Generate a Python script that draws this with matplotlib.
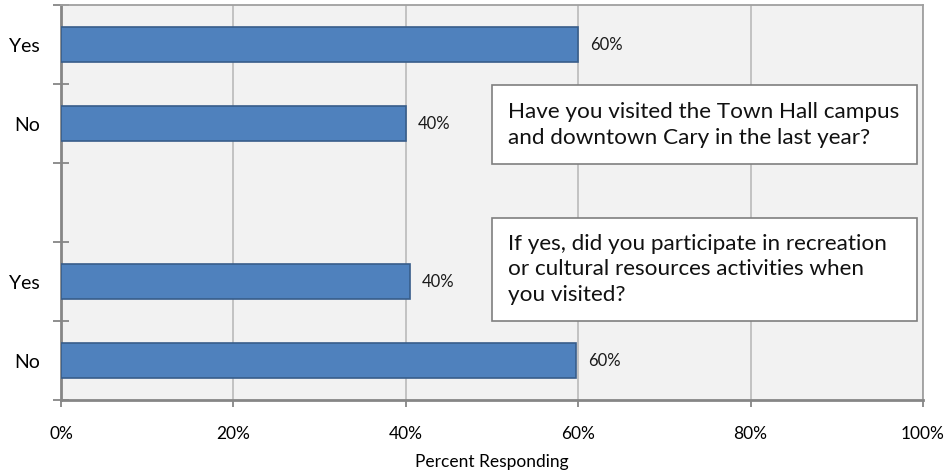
import matplotlib.pyplot as plt
from matplotlib.patches import Rectangle
from matplotlib.ticker import FixedLocator, PercentFormatter

plt.rcParams['font.family'] = ['Lato', 'DejaVu Sans']

# survey answers, top to bottom (the empty slot separates the two questions)
labels = ['Yes', 'No', '', 'Yes', 'No']
values = [0.60, 0.40, None, 0.405, 0.597]

questions = [
    'Have you visited the Town Hall campus\nand downtown Cary in the last year?',
    'If yes, did you participate in recreation\nor cultural resources activities when\nyou visited?',
]

fig = plt.figure(figsize=(9.46, 4.72), dpi=100)
ax = fig.add_axes([0.0645, 0.1525, 0.9112, 0.8369])
ax.set_facecolor('#f2f2f2')

pos = list(range(len(labels)))
for p, v in zip(pos, values):
    if v is None:
        continue
    ax.barh(p, v, height=0.44, color='#4f81bd', edgecolor='#385d8a', linewidth=1.2, zorder=3)
    ax.text(v + 0.014, p, f'{v:.0%}', va='center', ha='left', fontsize=12, color='#1a1a1a')

ax.set_xlim(0, 1)
ax.set_ylim(len(labels) - 0.5, -0.5)
ax.set_xticks([0, 0.2, 0.4, 0.6, 0.8, 1.0])
ax.xaxis.set_major_formatter(PercentFormatter(1.0, decimals=0))
ax.grid(axis='x', color='#bfbfbf', linewidth=1.3, zorder=0)

ax.set_yticks(pos)
ax.set_yticklabels(labels, fontsize=14)
ax.yaxis.set_minor_locator(FixedLocator([i - 0.5 for i in range(len(labels) + 1)]))
ax.tick_params(axis='y', which='major', length=0, pad=15)
ax.tick_params(axis='y', which='minor', direction='inout', length=12, width=1.3, color='#868686')
ax.tick_params(axis='x', direction='out', length=5, width=1.3, color='#868686', labelsize=12.5, pad=14)
ax.set_xlabel('Percent Responding', fontsize=12.5, labelpad=8)

for side in ['left', 'bottom']:
    ax.spines[side].set_color('#868686')
    ax.spines[side].set_linewidth(2)
for side in ['top', 'right']:
    ax.spines[side].set_color('#a0a0a0')
    ax.spines[side].set_linewidth(1.3)

# question call-outs (axes fraction)
boxes = [(0.500, 0.597, 0.493, 0.200), (0.500, 0.200, 0.493, 0.261)]
for (x0, y0, w, h), q in zip(boxes, questions):
    ax.add_patch(Rectangle((x0, y0), w, h, transform=ax.transAxes, facecolor='white',
                           edgecolor='#7f7f7f', linewidth=1.2, zorder=4))
    ax.text(x0 + 0.018, y0 + h / 2, q, transform=ax.transAxes, ha='left', va='center',
            fontsize=16.2, linespacing=1.37, color='#111111', zorder=5)

fig.savefig('out.png', dpi=100)
